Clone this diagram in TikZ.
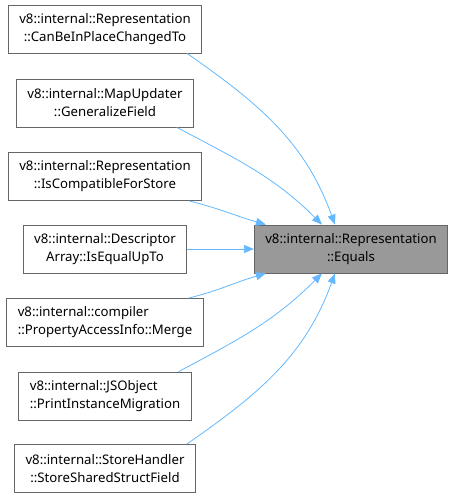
\documentclass[tikz,border=0pt]{standalone}
\usepackage{fontspec}
\setmainfont{Noto Sans}
\usepackage{tikz}
\usetikzlibrary{arrows.meta,positioning}
\definecolor{edgeblue}{HTML}{63B8FF}
\definecolor{boxline}{HTML}{666666}
\definecolor{boxfill}{HTML}{999999}

\begin{document}
\begin{tikzpicture}[
  x=1pt,y=-1pt,
  font=\fontsize{13.2}{18}\selectfont,
  fn/.style={draw=boxline,line width=0.8pt,fill=white,minimum height=48pt,inner xsep=11pt,align=center},
  cur/.style={fn,fill=boxfill},
  a/.style={-{Triangle[length=10pt,width=8pt]},edgeblue,line width=0.8pt}
]
\useasboundingbox (0,0) rectangle (454,499);

% target
\node[cur] (eq) at (351,249) {v8::internal::Representation\\::Equals};

% callers
\node[fn] (c1) at (105,29)    {v8::internal::Representation\\::CanBeInPlaceChangedTo};
\node[fn] (c2) at (105,103)   {v8::internal::MapUpdater\\::GeneralizeField};
\node[fn] (c3) at (105,176.5) {v8::internal::Representation\\::IsCompatibleForStore};
\node[fn] (c4) at (105,249)   {v8::internal::Descriptor\\Array::IsEqualUpTo};
\node[fn,align=left] (c5) at (105,322.5) {v8::internal::compiler\\::PropertyAccessInfo::Merge};
\node[fn,align=left] (c6) at (105,396)   {v8::internal::JSObject\\::PrintInstanceMigration};
\node[fn] (c7) at (105,468.5) {v8::internal::StoreHandler\\::StoreSharedStructField};

\draw[a] ([xshift=-15]c1.south east) to[out=-35,in=110] ([xshift=-16]eq.north);
\draw[a] ([xshift=-17]c2.south east) to[out=-28,in=135] ([xshift=-29]eq.north);
\draw[a] ([xshift=-13]c3.south east) to[out=-14,in=164] ([xshift=12]eq.north west);
\draw[a] (c4) -- (eq);
\draw[a] ([xshift=-15]c5.north east) to[out=14,in=-164] ([xshift=12]eq.south west);
\draw[a] ([xshift=-13]c6.north east) to[out=28,in=-135] ([xshift=-29]eq.south);
\draw[a] ([xshift=-9]c7.north east) to[out=35,in=-110] ([xshift=-16]eq.south);
\end{tikzpicture}
\end{document}
